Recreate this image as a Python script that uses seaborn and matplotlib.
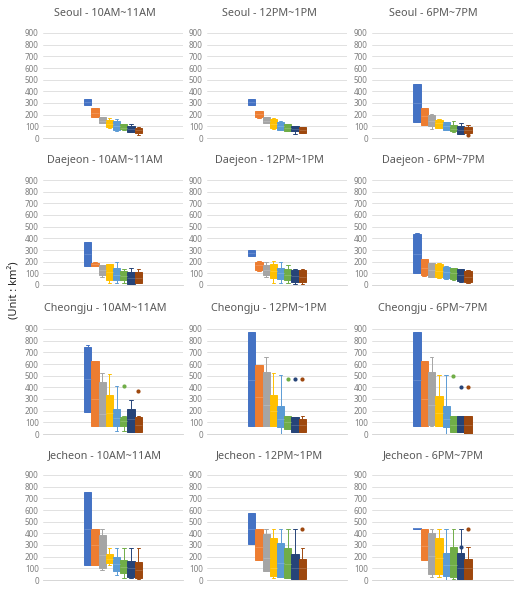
import numpy as np
import pandas as pd
import matplotlib
matplotlib.use("Agg")
import matplotlib.pyplot as plt
import seaborn as sns
from matplotlib.colors import to_rgb

sns.set_style("white")
plt.rcParams["font.family"] = ["Noto Sans", "DejaVu Sans"]

# ---------------- data ----------------
series = ["S1", "S2", "S3", "S4", "S5", "S6", "S7", "S8"]
colors = ["#4472C4", "#ED7D31", "#A5A5A5", "#FFC000",
          "#5B9BD5", "#70AD47", "#264478", "#9E480E"]

titles = ["Seoul - 10AM~11AM", "Seoul - 12PM~1PM", "Seoul - 6PM~7PM",
          "Daejeon - 10AM~11AM", "Daejeon - 12PM~1PM", "Daejeon - 6PM~7PM",
          "Cheongju - 10AM~11AM", "Cheongju - 12PM~1PM", "Cheongju - 6PM~7PM",
          "Jecheon - 10AM~11AM", "Jecheon - 12PM~1PM", "Jecheon - 6PM~7PM"]

yticks = [0, 100, 200, 300, 400, 500, 600, 700, 800, 900]

# five-number summaries per series: [min, Q1, median, Q3, max]
seoul_10am = [[280, 282, 305, 335, 335], [178, 180, 215, 255, 257],
              [128, 130, 150, 180, 182], [90, 92, 120, 157, 172],
              [62, 65, 100, 150, 163], [72, 74, 90, 117, 118],
              [48, 50, 75, 100, 122], [30, 43, 65, 90, 92]]
seoul_12pm = [[282, 284, 305, 332, 334], [175, 177, 205, 228, 230],
              [128, 130, 150, 180, 182], [80, 85, 120, 160, 172],
              [68, 70, 100, 138, 150], [60, 62, 90, 118, 120],
              [38, 58, 78, 100, 102], [43, 45, 70, 95, 97]]
seoul_6pm = [[137, 140, 300, 465, 467], [113, 115, 190, 255, 257],
             [80, 100, 150, 200, 202], [86, 88, 125, 157, 165],
             [70, 72, 100, 137, 139], [55, 58, 80, 109, 146],
             [35, 38, 70, 103, 129], [43, 45, 70, 94, 109]]
daejeon_10am = [[163, 165, 270, 370, 372], [160, 166, 178, 190, 195],
                [71, 86, 130, 170, 172], [20, 43, 110, 180, 182],
                [20, 43, 90, 143, 200], [15, 43, 80, 120, 140],
                [9, 10, 60, 114, 143], [14, 15, 60, 109, 137]]
daejeon_12pm = [[250, 252, 275, 300, 302], [120, 130, 170, 200, 210],
                [70, 90, 130, 175, 200], [20, 60, 120, 180, 210],
                [20, 50, 100, 150, 200], [20, 40, 90, 140, 170],
                [10, 30, 80, 130, 140], [10, 30, 70, 125, 135]]
daejeon_6pm = [[100, 102, 270, 440, 442], [80, 82, 150, 220, 222],
               [70, 72, 130, 190, 192], [60, 70, 120, 180, 185],
               [50, 60, 110, 154, 160], [40, 51, 100, 145, 150],
               [30, 34, 90, 137, 140], [20, 26, 70, 120, 125]]
cheongju_10am = [[189, 191, 475, 750, 760], [71, 72, 300, 625, 629],
                 [71, 72, 175, 446, 523], [71, 72, 180, 337, 514],
                 [23, 71, 140, 217, 408], [23, 66, 110, 150, 151],
                 [14, 15, 130, 214, 294], [14, 15, 80, 150, 151]]
cheongju_12pm = [[71, 72, 466, 871, 872], [71, 72, 320, 591, 592],
                 [71, 72, 250, 534, 657], [71, 72, 200, 337, 523],
                 [0, 57, 130, 243, 509], [43, 44, 100, 151, 152],
                 [14, 15, 80, 146, 147], [14, 15, 80, 129, 151]]
cheongju_6pm = [[71, 72, 466, 871, 872], [71, 72, 300, 623, 624],
                [66, 80, 250, 529, 657], [71, 72, 180, 329, 509],
                [0, 57, 130, 243, 509], [14, 15, 80, 151, 152],
                [14, 15, 80, 151, 152], [3, 4, 80, 151, 152]]
jecheon_10am = [[129, 130, 440, 751, 752], [129, 130, 300, 434, 435],
                [86, 100, 214, 386, 434], [129, 143, 180, 220, 271],
                [43, 80, 140, 200, 271], [20, 57, 110, 171, 271],
                [20, 29, 100, 166, 271], [10, 14, 90, 157, 271]]
jecheon_12pm = [[307, 308, 440, 574, 575], [170, 171, 284, 437, 438],
                [80, 81, 190, 398, 437], [20, 34, 100, 361, 437],
                [23, 24, 150, 318, 437], [14, 15, 140, 278, 437],
                [6, 7, 100, 227, 437], [6, 7, 100, 179, 278]]
jecheon_6pm = [[438, 439, 442, 445, 446], [170, 171, 290, 439, 440],
               [23, 51, 210, 399, 439], [23, 51, 190, 362, 439],
               [3, 37, 130, 235, 439], [8, 23, 130, 286, 439],
               [8, 9, 100, 229, 439], [8, 9, 100, 184, 286]]

panels = [seoul_10am, seoul_12pm, seoul_6pm,
          daejeon_10am, daejeon_12pm, daejeon_6pm,
          cheongju_10am, cheongju_12pm, cheongju_6pm,
          jecheon_10am, jecheon_12pm, jecheon_6pm]

# outlier points
outlier_panel = [2, 6, 6, 7, 7, 7, 8, 8, 8, 10, 11, 11]
outlier_series = [7, 5, 7, 5, 6, 7, 5, 6, 7, 7, 6, 7]
outlier_value = [23, 408, 371, 471, 471, 471, 500, 400, 400, 440, 286, 439]

# ---------------- build tables ----------------
rows = []
for p, summ in enumerate(panels):
    for s, five in enumerate(summ):
        for v in five:
            rows.append({"panel": p, "series": series[s], "value": v})
df = pd.DataFrame(rows)
out_df = pd.DataFrame({"panel": outlier_panel,
                       "series": [series[i] for i in outlier_series],
                       "value": outlier_value})

# ---------------- layout ----------------
W, H = 520, 597
fig = plt.figure(figsize=(W / 100, H / 100), dpi=100)
col_lr = [(43, 183), (207, 347), (372, 513)]
row_tb = [(33, 138), (180, 285), (329, 434), (475, 580)]
title_x = [105, 269, 433]
title_y = [14, 160, 309, 456]


def lighten(c, f=0.2):
    r, g, b = to_rgb(c)
    return (r + (1 - r) * f, g + (1 - g) * f, b + (1 - b) * f)


for p in range(12):
    r, c = divmod(p, 3)
    l, rr = col_lr[c]
    t, b = row_tb[r]
    ax = fig.add_axes([l / W, 1 - b / H, (rr - l) / W, (b - t) / H])
    d = df[df["panel"] == p]
    sns.boxplot(data=d, x="series", y="value", hue="series",
                order=series, hue_order=series, palette=colors,
                width=1.0, gap=0, whis=(0, 100), saturation=1,
                linewidth=0.7, fliersize=0, legend=False, ax=ax)
    for k, cont in enumerate(ax.containers):
        col = colors[k]
        for bx in cont.boxes:
            bx.set_edgecolor(col)
            bx.set_facecolor(col)
        for ln in list(cont.whiskers) + list(cont.caps):
            ln.set_color(col)
            ln.set_linewidth(0.7)
        for ln in cont.medians:
            ln.set_color(lighten(col))
            ln.set_linewidth(0.6)
    od = out_df[out_df["panel"] == p]
    if len(od):
        sns.stripplot(data=od, x="series", y="value", hue="series",
                      order=series, hue_order=series, palette=colors,
                      jitter=False, size=3, linewidth=0, legend=False, ax=ax)
    ax.set_xlim(-6.16, 13.16)
    ax.set_ylim(0, 900)
    ax.set_yticks(yticks)
    ax.set_yticklabels([str(v) for v in yticks], fontsize=5.8, color="#7f7f7f")
    ax.tick_params(axis="y", length=0, pad=3)
    ax.set_xticks([])
    ax.set_xlabel("")
    ax.set_ylabel("")
    ax.yaxis.grid(True, color="#dcdcdc", linewidth=0.6)
    ax.set_axisbelow(True)
    for sp in ["top", "right", "left"]:
        ax.spines[sp].set_visible(False)
    ax.spines["bottom"].set_color("#d0d0d0")
    ax.spines["bottom"].set_linewidth(0.6)
    fig.text(title_x[c] / W, 1 - title_y[r] / H, titles[p],
             ha="center", va="center", fontsize=7.8, color="#595959")

fig.text(15 / W, 1 - 290 / H, "(Unit : km²)", rotation=90,
         ha="center", va="center", fontsize=8, fontweight="bold",
         color="#262626")

fig.savefig("out.png", dpi=100)
